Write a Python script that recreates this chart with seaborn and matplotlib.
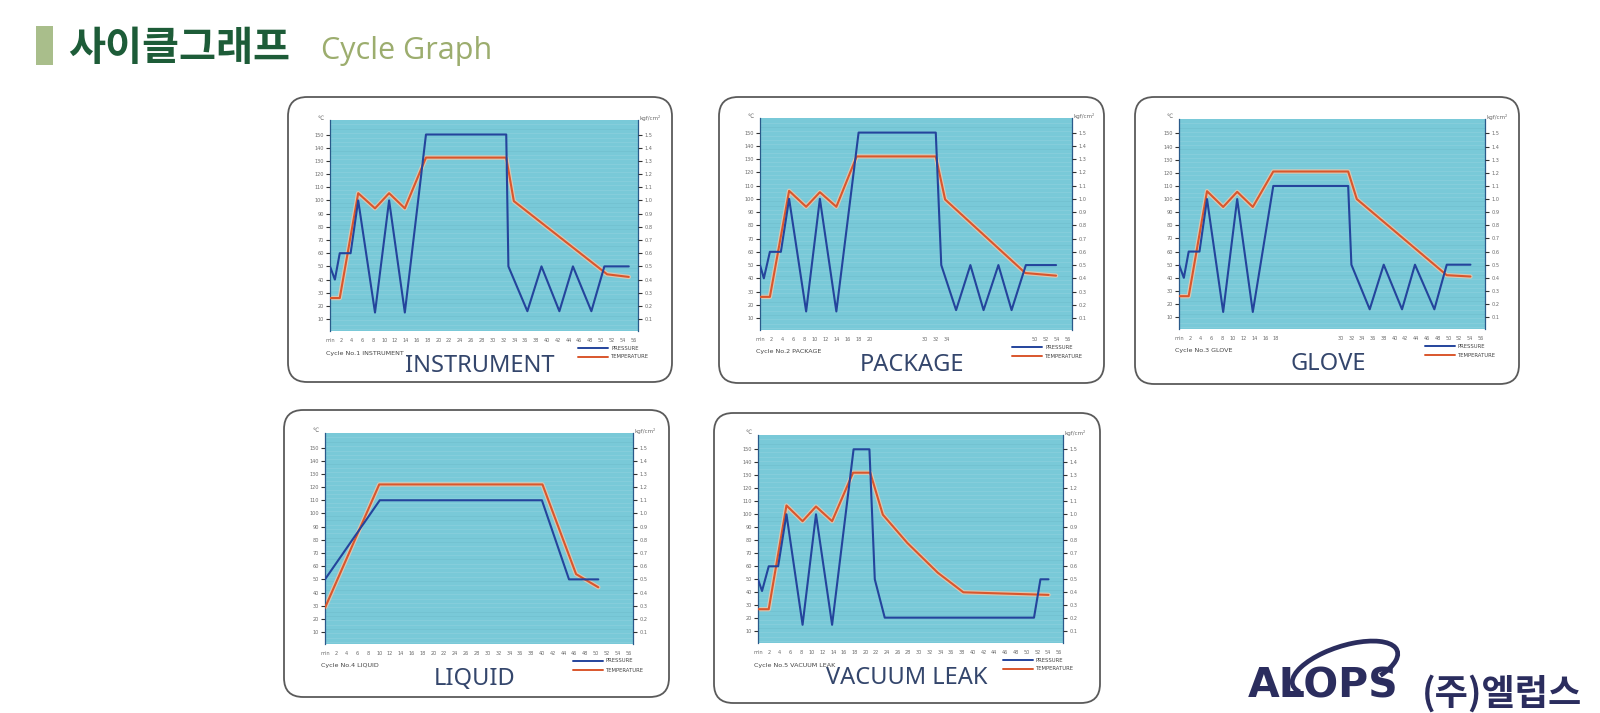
import matplotlib
matplotlib.use("Agg")
import matplotlib.pyplot as plt
import seaborn as sns
import pandas as pd
import numpy as np
from matplotlib.patches import FancyBboxPatch, Rectangle, Arc
from matplotlib.lines import Line2D
from matplotlib.transforms import IdentityTransform

sns.set_style("white")
plt.rcParams['font.family'] = ['DejaVu Sans', 'Noto Sans CJK KR']

# ---------------- data (x = time in min, temperature in ℃, pressure in kgf/cm²*100) ----------
inst_p_x = [0, 0.9, 1.8, 3.8, 5.2, 8.3, 10.9, 13.8, 17.7, 32.5, 32.9, 36.4, 39.0, 42.3, 44.8, 48.2, 50.6, 55.1]
inst_p_y = [50, 40, 60, 60, 100, 15, 100, 15, 150, 150, 50, 16, 50, 16, 50, 16, 50, 50]
inst_t_x = [0, 1.8, 5.2, 8.3, 10.9, 13.8, 17.7, 32.5, 33.9, 51.1, 55.1]
inst_t_y = [26, 26, 105.5, 94, 105.5, 94, 132.5, 132.5, 99.5, 44, 42]

pack_p_x = [0, 0.7, 1.8, 3.8, 5.3, 8.4, 10.9, 13.9, 17.95, 32.0, 33.0, 35.7, 38.3, 40.7, 43.4, 45.8, 48.4, 53.9]
pack_p_y = [50, 40, 60, 60, 100, 15, 100, 15, 150, 150, 50, 16, 50, 16, 50, 16, 50, 50]
pack_t_x = [0, 1.8, 5.3, 8.4, 10.9, 13.9, 17.6, 32.0, 33.7, 48.3, 53.9]
pack_t_y = [26, 26, 106, 94, 105, 94, 132, 132, 99.5, 44, 42]

glove_p_x = [0, 0.9, 1.8, 3.8, 5.2, 8.2, 10.8, 13.7, 17.5, 31.4, 32.0, 35.4, 38.0, 41.4, 43.8, 47.4, 49.7, 54.1]
glove_p_y = [50, 40, 60, 60, 100, 14, 100, 14, 110, 110, 50, 16, 50, 16, 50, 16, 50, 50]
glove_t_x = [0, 1.8, 5.2, 8.2, 10.8, 13.7, 17.5, 31.4, 33.0, 49.7, 54.1]
glove_t_y = [26, 26, 106, 94, 105.5, 94, 121, 121, 100, 42, 41]

liq_p_x = [0, 10.1, 40.0, 45.0, 50.4]
liq_p_y = [50, 110, 110, 50, 50]
liq_t_x = [0, 10.0, 40.1, 46.3, 50.4]
liq_t_y = [28.5, 122, 122, 54, 44]

vac_p_x = [0, 0.75, 2.0, 3.75, 5.3, 8.3, 10.8, 13.8, 17.8, 20.75, 21.75, 23.6, 51.4, 52.6, 54.1]
vac_p_y = [50, 41, 60, 60, 100, 15, 100, 15, 150, 150, 50, 20.5, 20.5, 50, 50]
vac_t_x = [0, 2.0, 5.3, 8.3, 10.8, 13.8, 17.7, 20.9, 23.25, 27.8, 33.5, 38.25, 54.1]
vac_t_y = [27, 27, 106.8, 94.7, 106, 94.7, 132, 132, 99.7, 78, 55, 40, 38]

titles = ["INSTRUMENT", "PACKAGE", "GLOVE", "LIQUID", "VACUUM LEAK"]
captions = ["Cycle No.1 INSTRUMENT", "Cycle No.2 PACKAGE", "Cycle No.3 GLOVE",
            "Cycle No.4 LIQUID", "Cycle No.5 VACUUM LEAK"]
left_ticks = [10, 20, 30, 40, 50, 60, 70, 80, 90, 100, 110, 120, 130, 140, 150]
right_ticks = [0.1, 0.2, 0.3, 0.4, 0.5, 0.6, 0.7, 0.8, 0.9, 1.0, 1.1, 1.2, 1.3, 1.4, 1.5]
x_ticks = list(range(0, 57, 2))
legend_labels = ["PRESSURE", "TEMPERATURE"]

W, H = 1600, 713
fig = plt.figure(figsize=(W / 100, H / 100), dpi=100)
fig.patch.set_facecolor("white")


def fx(x):
    return x / W


def fy(y):
    return 1 - y / H


# panel layout in pixel coords: box (l, t, r, b), axes (l, t, r, b)
layout = [
    ((288, 97, 672, 382), (330, 120, 638, 331)),
    ((719, 97, 1104, 383), (760, 118, 1072, 330)),
    ((1135, 97, 1519, 384), (1179, 119, 1485, 329)),
    ((284, 410, 669, 697), (325, 433, 633, 644)),
    ((714, 413, 1100, 703), (758, 435, 1063, 643)),
]
series = [
    (inst_p_x, inst_p_y, inst_t_x, inst_t_y),
    (pack_p_x, pack_p_y, pack_t_x, pack_t_y),
    (glove_p_x, glove_p_y, glove_t_x, glove_t_y),
    (liq_p_x, liq_p_y, liq_t_x, liq_t_y),
    (vac_p_x, vac_p_y, vac_t_x, vac_t_y),
]
# which x-ticks are visible / labelled per panel
pack_ticks = [0, 2, 4, 6, 8, 10, 12, 14, 16, 18, 20, 30, 32, 34, 50, 52, 54, 56]
tick_sets = [
    (x_ticks, x_ticks),
    (pack_ticks, pack_ticks),
    (x_ticks, [v for v in x_ticks if not (20 <= v <= 28)]),
    (x_ticks, x_ticks),
    (x_ticks, x_ticks),
]

BLUE = "#24449c"
ORANGE = "#d9562c"
TEAL = "#79c9d8"
TICKC = "#6a6a6a"
TITLEC = "#34466c"

for i in range(5):
    (bl, bt, br, bb), (al, at, ar, ab) = layout[i]
    box = FancyBboxPatch((fx(bl), fy(bb)), fx(br - bl), (bb - bt) / H,
                         boxstyle="round,pad=0,rounding_size=0.012",
                         transform=fig.transFigure, facecolor="white",
                         edgecolor="#5a5a5a", linewidth=1.3, zorder=0,
                         mutation_aspect=W / H)
    fig.add_artist(box)

    ax = fig.add_axes([fx(al), fy(ab), fx(ar - al), (ab - at) / H])
    ax.set_facecolor(TEAL)
    px, py, tx, ty = series[i]
    # faint horizontal stripes
    for yy in np.arange(2.5, 160, 3.3):
        ax.axhline(yy, color="#9ad6e2" if int(yy * 10) % 3 else "#6bb8c8",
                   lw=0.5, alpha=0.55, zorder=0)

    dft = pd.DataFrame({"x": tx, "y": ty})
    dfp = pd.DataFrame({"x": px, "y": py})
    sns.lineplot(data=dft, x="x", y="y", ax=ax, color="#f3c7a8", lw=3.2, sort=False,
                 zorder=2, alpha=0.8)
    sns.lineplot(data=dft, x="x", y="y", ax=ax, color=ORANGE, lw=1.5, sort=False, zorder=3)
    sns.lineplot(data=dfp, x="x", y="y", ax=ax, color=BLUE, lw=1.5, sort=False, zorder=4)

    ax.set_xlim(0, 56.8)
    ax.set_ylim(1, 161)
    ax.set_xlabel("")
    ax.set_ylabel("")
    ticks_vis, ticks_lab = tick_sets[i]
    ax.set_xticks(ticks_vis)
    ax.set_xticklabels([("min" if v == 0 else str(v)) if v in ticks_lab else "" for v in ticks_vis])
    ax.set_yticks(left_ticks)
    ax.set_yticklabels([str(v) for v in left_ticks])
    ax.tick_params(axis="both", direction="out", length=3, width=0.8, color="#333",
                   labelsize=3.6, labelcolor=TICKC, pad=1.5)
    ax.tick_params(axis="x", length=4, pad=1)
    for s in ax.spines.values():
        s.set_color("#2a5a8a")
        s.set_linewidth(0.9)
    ax.spines["bottom"].set_visible(False)
    ax.spines["top"].set_visible(False)

    ax2 = ax.twinx()
    ax2.set_ylim(0.01, 1.61)
    ax2.set_yticks(right_ticks)
    ax2.set_yticklabels([f"{v:.1f}" for v in right_ticks])
    ax2.tick_params(axis="y", direction="out", length=3, width=0.8, color="#333",
                    labelsize=3.6, labelcolor=TICKC, pad=1.5)
    for s in ax2.spines.values():
        s.set_visible(False)

    # unit labels
    fig.text(fx(al - 9), fy(at - 2), "℃", fontsize=4, color=TICKC, ha="center", va="center")
    fig.text(fx(ar + 12), fy(at - 2), "kgf/cm²", fontsize=4, color=TICKC, ha="center", va="center")

    # caption
    fig.text(fx(al - 4), fy(ab + 22), captions[i], fontsize=4.6, color="#444", ha="left", va="center")
    # legend
    for k, (col, lab) in enumerate(zip([BLUE, ORANGE], legend_labels)):
        yk = fy(ab + 17 + 9 * k)
        fig.add_artist(Line2D([fx(ar - 60), fx(ar - 30)], [yk, yk], color=col, lw=1.4,
                              transform=fig.transFigure))
        fig.text(fx(ar - 27), yk, lab, fontsize=3.8, color="#444", ha="left", va="center")
    # panel title
    fig.text(fx((al + ar) / 2 - 4), fy(ab + 35), titles[i], fontsize=17, color=TITLEC,
             ha="center", va="center", family="Noto Sans", fontweight="light")

# ---------------- header ----------------
fig.add_artist(Rectangle((fx(36), fy(65)), fx(17), 39 / H, transform=fig.transFigure,
                         facecolor="#a9be8b", edgecolor="none"))
fig.text(fx(68), fy(49), "사이클그래프", fontsize=29, color="#1d5c38", fontweight="bold",
         family=["Noto Sans CJK KR"], ha="left", va="center")
fig.text(fx(321), fy(51), "Cycle Graph", fontsize=22, color="#9cad6e",
         family="Open Sans", ha="left", va="center")

# ---------------- logo ----------------
NAVY = "#2b2d5e"
fig.text(fx(1248), fy(686), "ALOPS", fontsize=29.5, color=NAVY, fontweight="heavy",
         ha="left", va="center")
fig.add_artist(Arc((1345, H - 668), 110, 44, angle=18, theta1=-30, theta2=190,
                   transform=IdentityTransform(), color=NAVY, lw=3.4))
fig.text(fx(1422), fy(694), "(주)엘럽스", fontsize=26, color=NAVY, fontweight="bold",
         family=["Noto Sans CJK KR"], ha="left", va="center")

fig.savefig("out.png", dpi=100, facecolor="white")
